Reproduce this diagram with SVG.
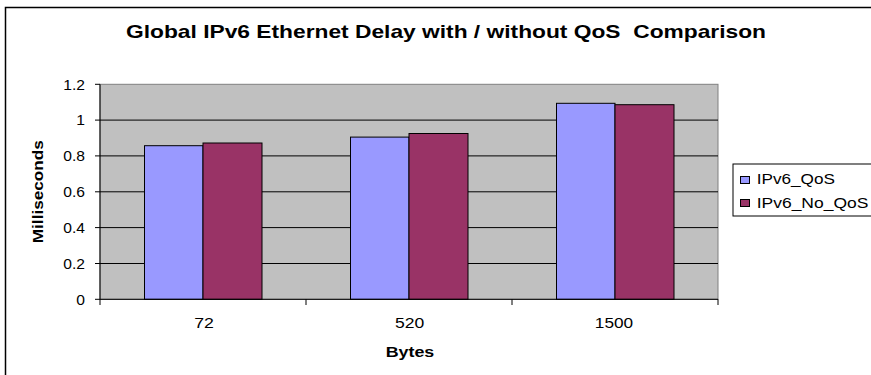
<svg xmlns="http://www.w3.org/2000/svg" width="871" height="375" viewBox="0 0 871 375">
<style>
text{font-family:"Liberation Sans",Arial,sans-serif;fill:#000}
.t{font-size:15px}
.b{font-weight:bold}
.grid{stroke:#000;stroke-width:1}
.q{fill:#9999FF;stroke:#000;stroke-width:1}
.n{fill:#993366;stroke:#000;stroke-width:1}
.ax{stroke:#000;stroke-width:1;fill:none}
</style>
<rect x="0" y="0" width="871" height="375" fill="#fff"/>
<path d="M5.5 380 V7.5 H880" fill="none" stroke="#000" stroke-width="1.5"/>
<g id="title"><text class="b" x="126" y="38.3" font-size="18.5" xml:space="preserve" style="white-space:pre" textLength="640" lengthAdjust="spacingAndGlyphs">Global IPv6 Ethernet Delay with / without QoS  Comparison</text></g>
<g id="plot">
<rect x="100" y="84.3" width="618" height="215" fill="#c0c0c0" stroke="#808080" stroke-width="1"/>
<g class="grid">
<line x1="100" y1="120.1" x2="718" y2="120.1"/>
<line x1="100" y1="155.9" x2="718" y2="155.9"/>
<line x1="100" y1="191.8" x2="718" y2="191.8"/>
<line x1="100" y1="227.6" x2="718" y2="227.6"/>
<line x1="100" y1="263.5" x2="718" y2="263.5"/>
</g>
</g>
<g id="bars">
<rect class="q" x="144.5" y="145.7" width="58.5" height="153.6"/>
<rect class="n" x="203" y="143" width="59" height="156.3"/>
<rect class="q" x="350.5" y="137.1" width="58.5" height="162.2"/>
<rect class="n" x="409" y="133.5" width="59" height="165.8"/>
<rect class="q" x="556.5" y="103.3" width="58.5" height="196"/>
<rect class="n" x="615" y="104.7" width="59" height="194.6"/>
</g>
<g id="axes" class="ax">
<path d="M100 84.3 V299.3 H718"/>
<path d="M95 84.3 H100 M95 120.1 H100 M95 155.9 H100 M95 191.8 H100 M95 227.6 H100 M95 263.5 H100 M95 299.3 H100"/>
<path d="M100 299.3 V305 M306 299.3 V305 M512 299.3 V305 M718 299.3 V305"/>
</g>
<g id="ylabels" class="t" text-anchor="end">
<text x="85" y="89.5" textLength="21.7" lengthAdjust="spacingAndGlyphs">1.2</text>
<text x="85" y="125.3" textLength="8.7" lengthAdjust="spacingAndGlyphs">1</text>
<text x="85" y="161.1" textLength="21.7" lengthAdjust="spacingAndGlyphs">0.8</text>
<text x="85" y="197" textLength="21.7" lengthAdjust="spacingAndGlyphs">0.6</text>
<text x="85" y="232.8" textLength="21.7" lengthAdjust="spacingAndGlyphs">0.4</text>
<text x="85" y="268.7" textLength="21.7" lengthAdjust="spacingAndGlyphs">0.2</text>
<text x="85" y="304.5" textLength="8.7" lengthAdjust="spacingAndGlyphs">0</text>
</g>
<g id="xlabels" class="t" text-anchor="middle">
<text x="204" y="327.7" textLength="19.7" lengthAdjust="spacingAndGlyphs">72</text>
<text x="409.7" y="327.7" textLength="29.3" lengthAdjust="spacingAndGlyphs">520</text>
<text x="614" y="327.7" textLength="38.3" lengthAdjust="spacingAndGlyphs">1500</text>
</g>
<g id="xtitle"><text class="b" x="410" y="356.7" font-size="15.5" text-anchor="middle" textLength="48.6" lengthAdjust="spacingAndGlyphs">Bytes</text></g>
<g id="ytitle"><text class="b" font-size="15.5" text-anchor="middle" transform="translate(43.3 191.7) rotate(-90)" textLength="103" lengthAdjust="spacingAndGlyphs">Milliseconds</text></g>
<g id="legend">
<rect x="733" y="164" width="150" height="52" fill="#fff" stroke="#000" stroke-width="1"/>
<rect class="q" x="740.5" y="176.5" width="9" height="7"/>
<text x="756.7" y="184.3" font-size="14" textLength="78.3" lengthAdjust="spacingAndGlyphs">IPv6_QoS</text>
<rect class="n" x="740.5" y="199.5" width="9" height="7"/>
<text x="756.7" y="207.7" font-size="14" textLength="111.7" lengthAdjust="spacingAndGlyphs">IPv6_No_QoS</text>
</g>
</svg>
